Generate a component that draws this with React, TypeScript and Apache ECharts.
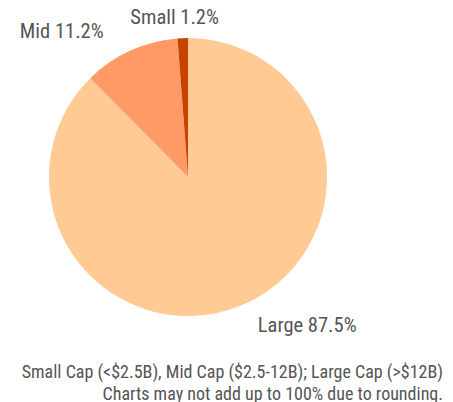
import React, { useEffect, useRef } from "react";
import * as echarts from "echarts";

const categories = ["Large", "Mid", "Small"];
const values = [87.5, 11.2, 1.2];
const colors = ["#FFCA94", "#FF9966", "#C84300"];
const footnotes = [
  "Small Cap (<$2.5B), Mid Cap ($2.5-12B); Large Cap (>$12B)",
  "Charts may not add up to 100% due to rounding.",
];

const FONT = "'Liberation Sans Narrow', 'Roboto Condensed', 'Arial Narrow', sans-serif";

export default function App() {
  const ref = useRef<HTMLDivElement>(null);
  useEffect(() => {
    if (!ref.current) return;
    const chart = echarts.init(ref.current, undefined, { renderer: "svg" });
    const lineCfg = [
      { length: 21, length2: 4 },
      { length: 21, length2: 13 },
      { length: 21, length2: 0 },
    ];
    chart.setOption({
      animation: false,
      backgroundColor: "#ffffff",
      series: [
        {
          type: "pie",
          center: [188, 177],
          radius: 139,
          startAngle: 90,
          clockwise: true,
          avoidLabelOverlap: false,
          silent: true,
          label: {
            show: true,
            position: "outside",
            formatter: (p: any) => `${p.name} ${p.value}%`,
            color: "#555555",
            fontSize: 20.5,
            fontFamily: FONT,
          },
          labelLine: { show: false },
          labelLayout: (params: any) => {
            if (params.dataIndex === 2) return { dx: 42 };
            return {};
          },
          data: categories.map((c, i) => ({
            name: c,
            value: values[i],
            itemStyle: { color: colors[i] },
            labelLine: { show: false, ...lineCfg[i] },
          })),
        },
      ],
      graphic: footnotes.map((t, i) => ({
        type: "text",
        right: 10,
        top: 362 + i * 22,
        style: {
          text: t,
          fill: "#555555",
          font: `18px ${FONT}`,
          textAlign: "right",
        },
      })),
    });
    return () => chart.dispose();
  }, []);
  return <div ref={ref} style={{ width: 453, height: 402, position: "absolute", left: 0, top: 0 }} />;
}
